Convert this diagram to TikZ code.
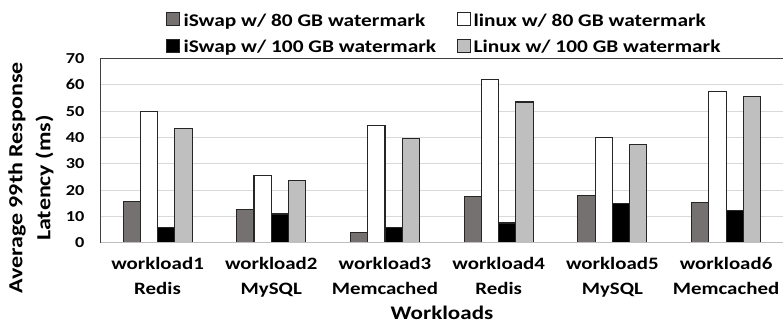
\documentclass[tikz,border=0pt]{standalone}
\usepackage{fontspec}
\setmainfont{Carlito}[FakeStretch=1.2]
\definecolor{iswapA}{HTML}{767171}
\definecolor{linuxB}{HTML}{BFBFBF}
\definecolor{gridc}{HTML}{D9D9D9}
\definecolor{framec}{HTML}{404040}
\begin{document}
\begin{tikzpicture}[x=1pt,y=-1pt,
  bar/.style={draw=black!85,line width=1.1pt},
  legbox/.style={draw=black!85,line width=0.9pt},
  tick/.style={font=\fontsize{15.2}{17}\selectfont\bfseries,anchor=base east,inner sep=0pt},
  cat/.style={font=\fontsize{17.4}{20}\selectfont\bfseries,anchor=base,inner sep=0pt},
  legtxt/.style={font=\fontsize{17.8}{21}\selectfont\bfseries,anchor=base west,inner sep=0pt},
  axtitle/.style={font=\fontsize{19.2}{27}\selectfont\bfseries,inner sep=0pt,align=center},
  ytitle/.style={font=\fontsize{20}{28}\selectfont\bfseries,inner sep=0pt,align=center}]
\useasboundingbox (0,0) rectangle (783,324);
% gridlines
\foreach \v in {10,20,...,60}{
  \draw[gridc,line width=1pt] (100.7,{242.7-2.63*\v}) -- (783,{242.7-2.63*\v});
}
% frame
\draw[framec,line width=1pt] (100.7,242.7) -- (100.7,58.6) -- (783,58.6);
% bars
\def\bw{17.25}
\foreach \g/\a/\b/\c/\d in {1/15.6/50/5.7/43.5, 2/12.7/25.5/10.9/23.7, 3/4.0/44.4/5.7/39.7, 4/17.4/62.0/7.5/53.5, 5/17.8/40.1/14.8/37.3, 6/15.2/57.4/12.3/55.7}{
  \pgfmathsetmacro{\cx}{100.7+113.7*(\g-0.5)}
  \draw[bar,fill=iswapA] (\cx-2*\bw,242.7) rectangle (\cx-\bw,{242.7-2.63*\a});
  \draw[bar,fill=white] (\cx-\bw,242.7) rectangle (\cx,{242.7-2.63*\b});
  \draw[bar,fill=black] (\cx,242.7) rectangle (\cx+\bw,{242.7-2.63*\c});
  \draw[bar,fill=linuxB] (\cx+\bw,242.7) rectangle (\cx+2*\bw,{242.7-2.63*\d});
}
% x axis
\draw[linuxB,line width=1.5pt] (100.7,242.7) -- (783,242.7);
% tick labels
\foreach \v in {0,10,...,70}{
  \node[tick] (t\v) at (84.5,{242.7-2.63*\v+5}) {\v};
}
% category labels
\foreach \g/\w/\s in {1/workload1/Redis,2/workload2/MySQL,3/workload3/Memcached,4/workload4/Redis,5/workload5/MySQL,6/workload6/Memcached}{
  \pgfmathsetmacro{\cx}{100.7+113.7*(\g-0.5)}
  \node[cat] (w\g) at (\cx,269.3) {\w};
  \node[cat] (s\g) at (\cx,294) {\s};
}
% axis titles
\node[axtitle,anchor=base] (xt) at (442,319) {Workloads};
\node[ytitle,rotate=90] (yt) at (31,178) {Average 99th Response\\Latency (ms)};
% legend
\draw[legbox,fill=iswapA] (166.7,12.5) rectangle (179.3,25.5);
\node[legtxt] (l1) at (183.3,26) {iSwap w/ 80 GB watermark};
\draw[legbox,fill=black] (166.7,39.8) rectangle (179.3,52.8);
\node[legtxt] (l2) at (183.3,52.8) {iSwap w/ 100 GB watermark};
\draw[legbox,fill=white] (457,12.5) rectangle (470,25.5);
\node[legtxt] (l3) at (473.5,26) {linux w/ 80 GB watermark};
\draw[legbox,fill=linuxB] (457,39.8) rectangle (470,52.8);
\node[legtxt] (l4) at (473.5,52.8) {Linux w/ 100 GB watermark};
\end{tikzpicture}
\end{document}
